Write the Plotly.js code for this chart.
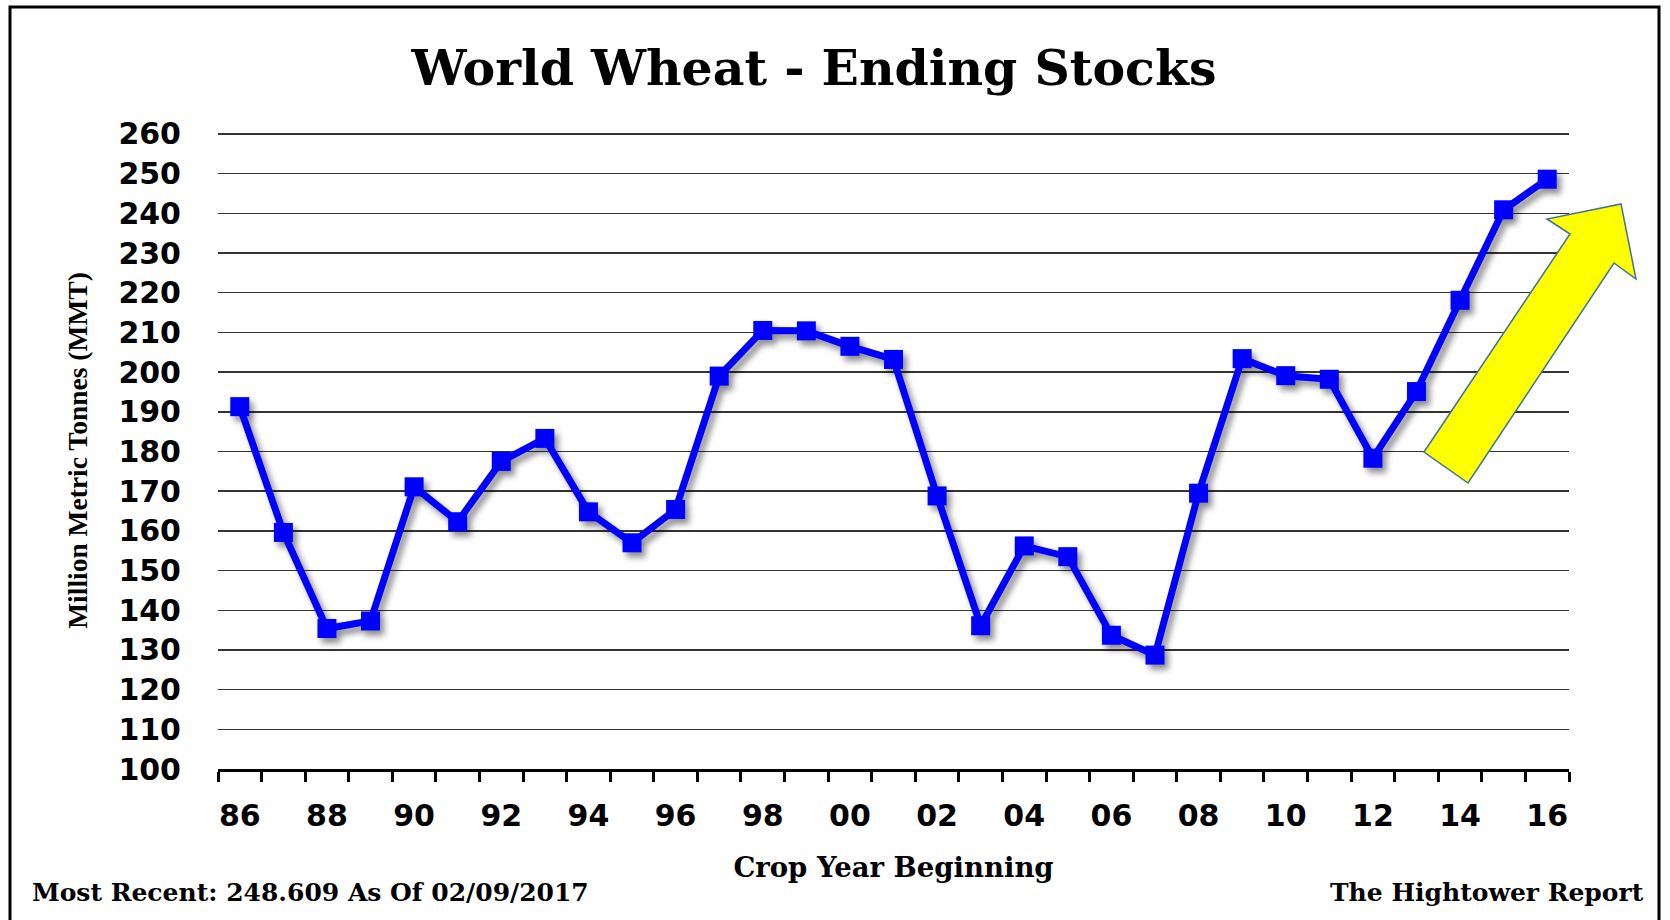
<!DOCTYPE html>
<html><head><meta charset="utf-8">
<script src="https://cdn.plot.ly/plotly-3.0.1.min.js"></script>
<style>
html,body{margin:0;padding:0;background:#fff;}
#chart{width:1670px;height:920px;}
#chart .scatterlayer .trace{filter:drop-shadow(4px 5px 3px rgba(0,0,0,0.45));}
</style></head><body><div id="chart"></div>
<script>
// ---- data ----
const years = [1986,1987,1988,1989,1990,1991,1992,1993,1994,1995,1996,1997,1998,1999,2000,2001,2002,2003,2004,2005,2006,2007,2008,2009,2010,2011,2012,2013,2014,2015,2016];
const yearLabels = ['86','87','88','89','90','91','92','93','94','95','96','97','98','99','00','01','02','03','04','05','06','07','08','09','10','11','12','13','14','15','16'];
const stocks = [191.3,159.6,135.4,137.3,171.1,162.3,177.5,183.3,164.8,157.0,165.4,199.0,210.5,210.4,206.5,203.2,168.8,136.1,156.2,153.5,133.7,128.7,169.5,203.4,199.1,198.2,178.3,195.1,218.1,240.9,248.609];
const yTicks = [100,110,120,130,140,150,160,170,180,190,200,210,220,230,240,250,260];

const titleText = 'World Wheat - Ending Stocks';
const yTitleText = 'Million Metric Tonnes (MMT)';
const xTitleText = 'Crop Year Beginning';
const footLeft = 'Most Recent: 248.609 As Of 02/09/2017';
const footRight = 'The Hightower Report';

// ---- layout helpers (pixel -> paper) ----
const W = 1670, H = 920;
const L = 218, R = 1569, T = 132, B = 769;
const px = x => (x - L) / (R - L);
const py = y => (B - y) / (B - T);

const arrowPx = [[1424,452],[1570,234],[1547,219],[1621,204],[1636,279],[1614,263],[1468,483]];
const arrowPath = arrowPx.map((p,i)=>(i===0?'M':'L')+px(p[0]).toFixed(5)+','+py(p[1]).toFixed(5)).join(' ')+' Z';

const evenIdx = years.map((y,i)=>i).filter(i=>i%2===0);
const tickvals = evenIdx.map(i=>years[i]);
const ticktext = evenIdx.map(i=>yearLabels[i]);

const trace = {
  x: years, y: stocks, type:'scatter', mode:'lines+markers',
  line:{color:'#0000FF', width:7},
  marker:{symbol:'square', size:19, color:'#0000FF'},
  hoverinfo:'x+y'
};

const tickFont = {family:'DejaVu Sans', size:30, weight:'bold', color:'#000'};

const layout = {
  width: W, height: H,
  paper_bgcolor:'#fff', plot_bgcolor:'#fff',
  margin:{l:L, r:W-R, t:T, b:H-B, pad:0},
  showlegend:false,
  title:{text:titleText, font:{family:'DejaVu Serif', size:49, weight:'bold', color:'#000'},
         x:814/W, xref:'container', xanchor:'center', y:1-68/H, yref:'container', yanchor:'middle'},
  xaxis:{
    range:[1985.5, 2016.5], tickmode:'array', tickvals:tickvals, ticktext:ticktext,
    ticks:'', showgrid:false, zeroline:false,
    showline:true, linecolor:'#000', linewidth:3,
    tickfont:tickFont, ticklabelstandoff:18, automargin:false,
    minor:{tick0:1985.5, dtick:1, ticks:'outside', ticklen:10, tickwidth:3, tickcolor:'#000', showgrid:false},
    title:{text:xTitleText, font:{family:'DejaVu Serif', size:27.5, weight:'bold', color:'#000'}, standoff:26}
  },
  yaxis:{
    range:[100,260.5], tickmode:'array', tickvals:yTicks, ticks:'',
    showgrid:true, gridcolor:'#333', gridwidth:1.5, zeroline:false, showline:false,
    tickfont:tickFont, ticklabelstandoff:36, automargin:false,
    title:{text:yTitleText, font:{family:'Liberation Serif', size:27.5, weight:'bold', color:'#000'}, standoff:22}
  },
  shapes:[
    {type:'path', xref:'paper', yref:'paper', path:arrowPath, fillcolor:'#FFFF00', line:{color:'#41719C', width:1.5}, layer:'above'},
    {type:'rect', xref:'paper', yref:'paper', x0:px(10), x1:px(1659), y0:py(935), y1:py(7), line:{color:'#000', width:3}, fillcolor:'rgba(0,0,0,0)'}
  ],
  annotations:[
    {text:footLeft, xref:'paper', yref:'paper', x:px(30), y:py(892), xanchor:'left', yanchor:'middle', showarrow:false,
     font:{family:'DejaVu Serif', size:25, weight:'bold', color:'#000'}},
    {text:footRight, xref:'paper', yref:'paper', x:px(1646), y:py(892), xanchor:'right', yanchor:'middle', showarrow:false,
     font:{family:'DejaVu Serif', size:25, weight:'bold', color:'#000'}}
  ]
};

Plotly.newPlot('chart', [trace], layout, {displayModeBar:false, staticPlot:true});
</script></body></html>
